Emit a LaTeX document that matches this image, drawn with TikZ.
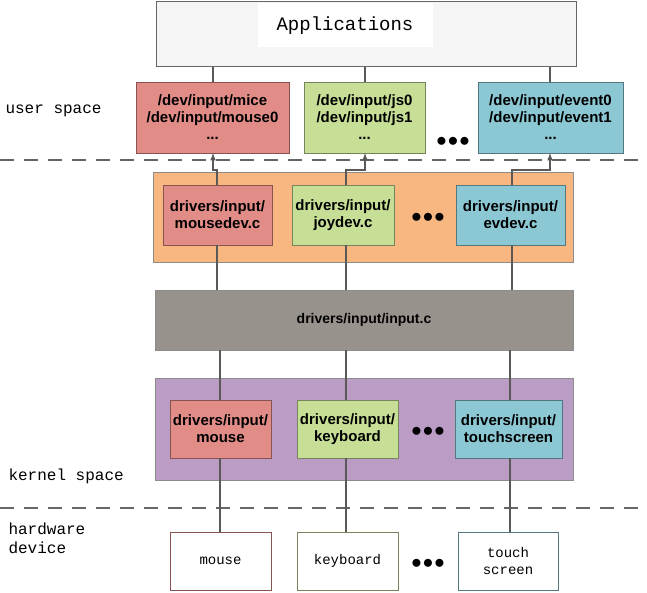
\documentclass[tikz,border=0pt]{standalone}
\usepackage{fontspec}
\setmainfont{Liberation Sans}
\newfontfamily\monof{Liberation Mono}
\begin{document}
\begin{tikzpicture}[x=1pt,y=-1pt,
  bx/.style={draw=#1!60!black,line width=0.8pt,inner sep=0pt,font=\bfseries\fontsize{15}{17}\selectfont,align=center},
  ln/.style={draw=black!65,line width=1.5pt},
  sepline/.style={draw=black!60,line width=2.5pt,dash pattern=on 14pt off 10pt},
  lab/.style={font=\monof\fontsize{16}{18}\selectfont,anchor=west,align=left},
  dots/.style={font=\bfseries\fontsize{20}{20}\selectfont}]
\useasboundingbox[fill=white] (0,0) rectangle (647,593);
\definecolor{cred}{RGB}{226,140,136}
\definecolor{cgreen}{RGB}{198,222,150}
\definecolor{cblue}{RGB}{140,200,212}
\definecolor{corange}{RGB}{248,182,128}
\definecolor{cgray}{RGB}{152,146,140}
\definecolor{cpurple}{RGB}{186,156,196}
% dashed separators
\draw[sepline] (0,160) -- (640,160);
\draw[sepline] (0,508) -- (640,508);
% Applications
\node[draw=black!60,fill=black!4,line width=1pt,minimum width=420pt,minimum height=65pt,inner sep=0pt] (app) at (366,34.5) {};
\node[fill=white,minimum width=175pt,minimum height=44pt,font=\monof\fontsize{19}{21}\selectfont,anchor=north] (apptxt) at (345,3) {Applications};
% user boxes
\node[bx=cred,fill=cred,minimum width=153pt,minimum height=71pt] (u1) at (212.5,117.5) {/dev/input/mice\\/dev/input/mouse0\\...};
\node[bx=cgreen,fill=cgreen,minimum width=121pt,minimum height=71pt] (u2) at (364.5,117.5) {/dev/input/js0\\/dev/input/js1\\...};
\node[bx=cblue,fill=cblue,minimum width=145pt,minimum height=71pt] (u3) at (550.5,117.5) {/dev/input/event0\\/dev/input/event1\\...};
\node[dots] (d1) at (453,142) {$\bullet\!\bullet\!\bullet$};
% orange
\node[draw=black!45,fill=corange,minimum width=420pt,minimum height=90pt] (orng) at (363,217) {};
\node[bx=cred,fill=cred,minimum width=109pt,minimum height=60pt] (o1) at (217.5,215) {drivers/input/\\mousedev.c};
\node[bx=cgreen,fill=cgreen,minimum width=102pt,minimum height=60pt] (o2) at (343,215) {drivers/input/\\joydev.c};
\node[bx=cblue,fill=cblue,minimum width=109pt,minimum height=60pt] (o3) at (510.5,215) {drivers/input/\\evdev.c};
\node[dots] (d2) at (428,218) {$\bullet\!\bullet\!\bullet$};
% input.c
\node[draw=black!45,fill=cgray,minimum width=418pt,minimum height=60pt,font=\bfseries\fontsize{14}{16}\selectfont] (inp) at (364,320) {drivers/input/input.c};
% purple
\node[draw=black!45,fill=cpurple,minimum width=418pt,minimum height=102pt] (purp) at (364,429) {};
\node[bx=cred,fill=cred,minimum width=101pt,minimum height=58pt] (k1) at (220.5,429) {drivers/input/\\mouse};
\node[bx=cgreen,fill=cgreen,minimum width=101pt,minimum height=58pt] (k2) at (347.5,429) {drivers/input/\\keyboard};
\node[bx=cblue,fill=cblue,minimum width=107pt,minimum height=58pt] (k3) at (508.5,429) {drivers/input/\\touchscreen};
\node[dots] (d3) at (428,432) {$\bullet\!\bullet\!\bullet$};
% hardware
\node[bx=cred,fill=white,minimum width=101pt,minimum height=58pt,font=\monof\fontsize{14}{17}\selectfont] (h1) at (220.5,561) {mouse};
\node[bx=cgreen,fill=white,minimum width=101pt,minimum height=58pt,font=\monof\fontsize{14}{17}\selectfont] (h2) at (347.5,561) {keyboard};
\node[bx=cblue,fill=white,minimum width=100pt,minimum height=58pt,font=\monof\fontsize{14}{17}\selectfont] (h3) at (508,561) {touch\\screen};
\node[dots] (d4) at (428,564) {$\bullet\!\bullet\!\bullet$};
% labels
\node[lab] (l1) at (2,111) {user space};
\node[lab] (l2) at (5,476) {kernel space};
\node[lab,anchor=north west,font=\monof\fontsize{16}{19}\selectfont] (l3) at (5,519) {hardware\\device};
% connectors
\begin{scope}[ln]
\draw (213,67) -- (213,82);
\draw (365,67) -- (365,82);
\draw (550,67) -- (550,82);
\draw[-latex] (217,185) -- (217,170) -- (213,170) -- (213,153);
\draw[-latex] (346,185) -- (346,170) -- (365,170) -- (365,153);
\draw[-latex] (512,185) -- (512,170) -- (550,170) -- (550,153);
\draw (217,245) -- (217,290);
\draw (346,245) -- (346,290);
\draw (512,245) -- (512,290);
\draw (220,350) -- (220,400);
\draw (346,350) -- (346,400);
\draw (510,350) -- (510,400);
\draw (220,458) -- (220,532);
\draw (346,458) -- (346,532);
\draw (510,458) -- (510,532);
\end{scope}
\end{tikzpicture}
\end{document}
